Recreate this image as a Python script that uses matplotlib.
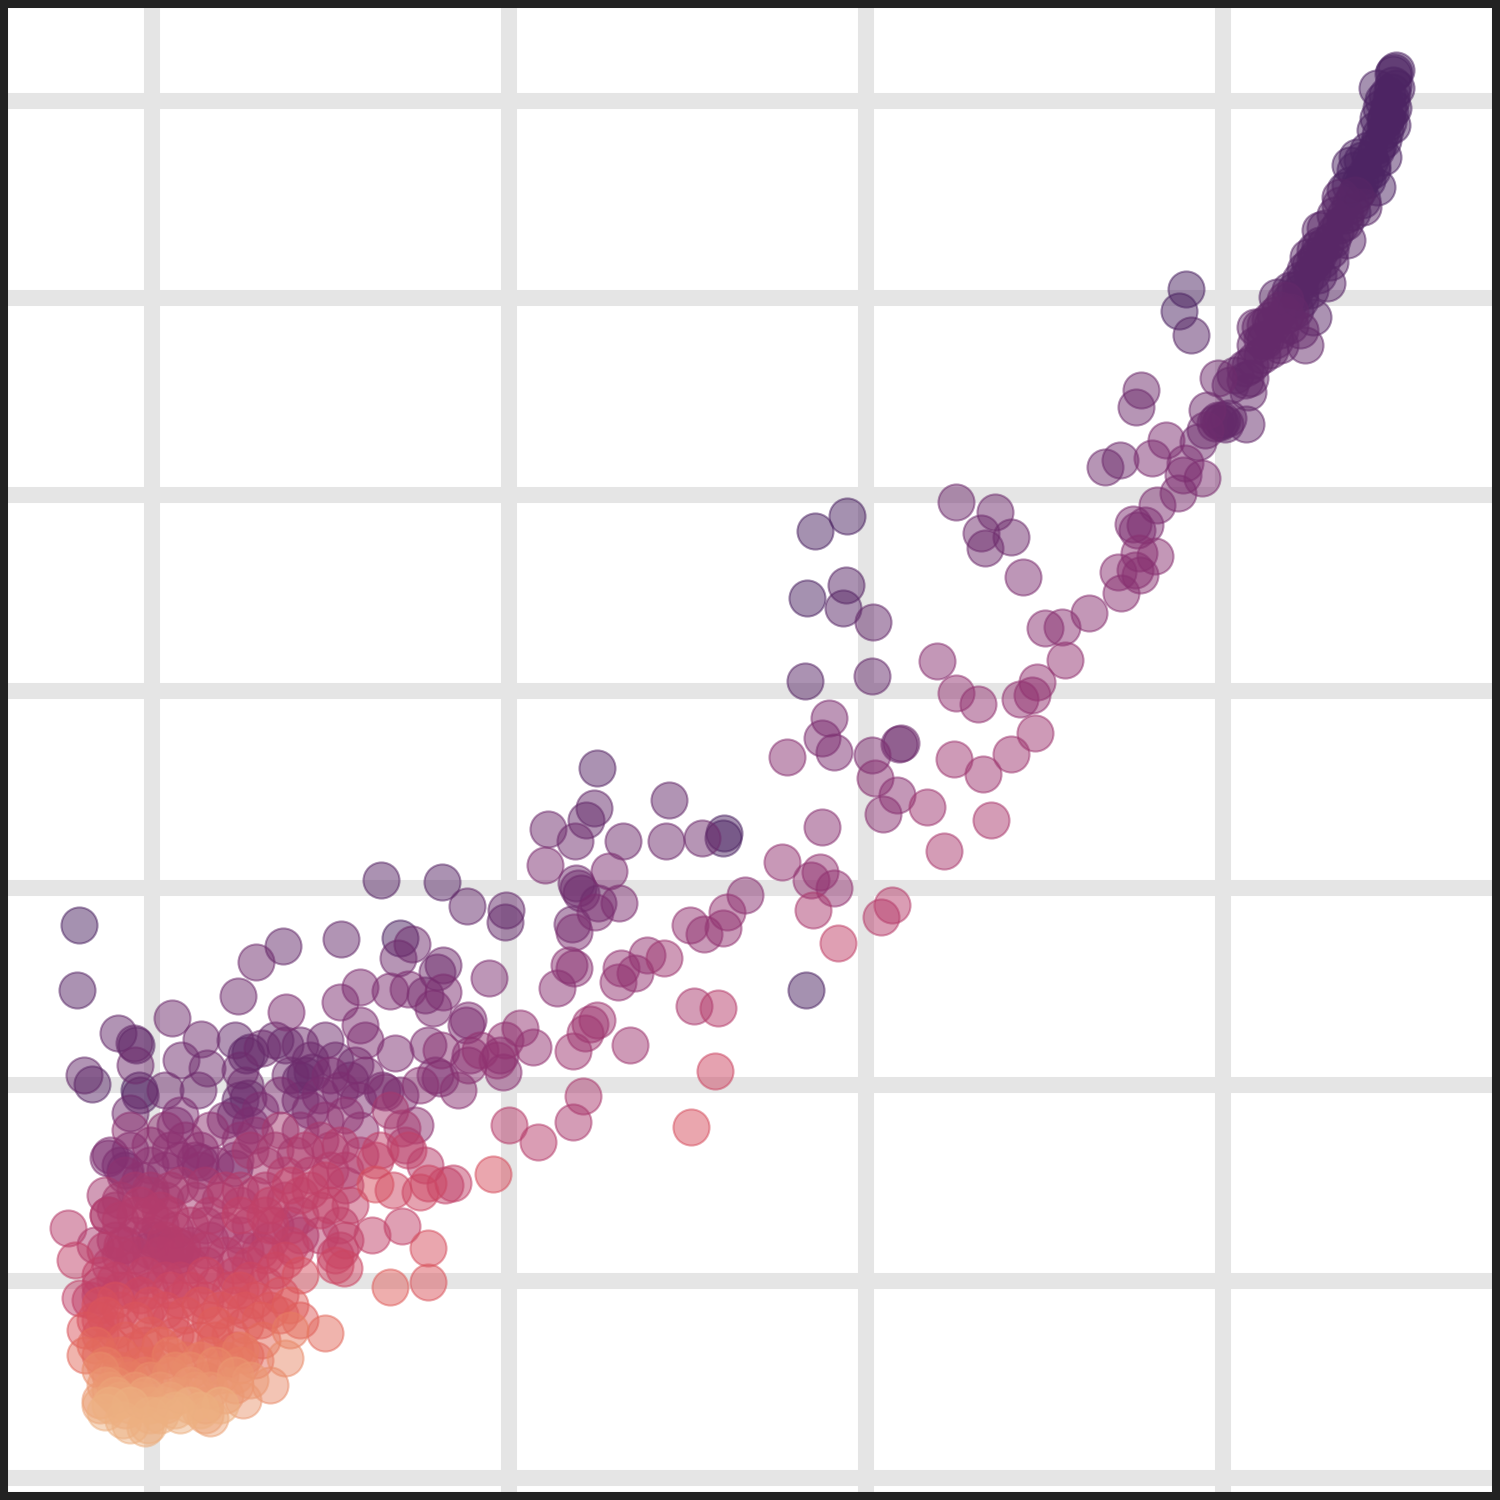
import matplotlib
matplotlib.use('Agg')
import matplotlib.pyplot as plt
import seaborn as sns

# grid positions
x_ticks = [152, 509, 866, 1223]
y_ticks = [101, 298, 495, 691, 888, 1085, 1281, 1478]

# points, one list per colour shade (0 = light orange, 1 = dark purple)
shades = [0.99, 0.94, 0.89, 0.85, 0.79, 0.74, 0.7, 0.65, 0.6, 0.55, 0.5, 0.45, 0.4, 0.37, 0.33, 0.28, 0.21, 0.15, 0.1, 0.05, 0.0,
          0.72, 0.62, 0.56, 0.5]

pts_100 = [(1396, 70), (1394, 72), (1393, 74), (1377, 88), (1393, 85), (1392, 92), (1391, 100), (1396, 88), (1393, 108),
           (1390, 112), (1388, 122), (1385, 130), (1380, 135), (1386, 118), (1383, 157), (1376, 150), (1370, 160),
           (1372, 170), (1365, 175), (1377, 187), (1360, 182), (1350, 165), (1357, 157), (1186, 289), (1179, 311),
           (79, 925), (806, 990), (847, 516), (815, 531), (807, 598), (724, 833), (723, 838), (400, 938), (139, 1090),
           (1388, 110), (1381, 108), (1385, 120), (1392, 125), (1375, 130), (1383, 140), (1378, 145), (1368, 150),
           (1372, 165), (1362, 160), (1367, 180), (1355, 170), (1358, 190), (1350, 185), (1345, 190), (1362, 200),
           (1352, 212), (1387, 95), (1383, 100), (1378, 118)]
pts_96 = [(1340, 197), (1355, 195), (1350, 205), (1345, 215), (1363, 207), (1340, 225), (1335, 232), (1347, 240),
          (1320, 230), (1325, 245), (1318, 255), (1308, 257), (1330, 262), (1312, 272), (1305, 280), (1327, 283),
          (1300, 292), (1290, 300), (1313, 317), (1277, 297), (1315, 260), (1330, 250), (77, 990), (843, 608),
          (1191, 335), (846, 585), (805, 681), (597, 768), (442, 882), (381, 880), (250, 1052), (246, 1055),
          (92, 1084), (140, 1095), (136, 1045), (1340, 205), (1345, 222), (1335, 215), (1332, 240), (1325, 228),
          (1320, 245), (1322, 260), (1315, 250), (1310, 265), (1318, 275), (1305, 270), (1300, 280), (1310, 290),
          (1295, 290), (1290, 290), (1300, 300), (1295, 310)]
pts_92 = [(1260, 327), (1272, 325), (1285, 315), (1300, 330), (1265, 340), (1275, 340), (1290, 325), (1280, 345),
          (1305, 345), (1250, 365), (1262, 355), (1245, 380), (1235, 375), (1248, 392), (1222, 420), (1220, 422),
          (1218, 420), (1225, 424), (1215, 423), (1228, 418), (1246, 424), (1255, 327), (872, 676), (873, 622),
          (594, 808), (586, 820), (669, 800), (467, 906), (506, 910), (505, 922), (341, 939), (283, 946), (118, 1033),
          (134, 1043), (84, 1075), (285, 1045), (235, 1040), (300, 1080), (312, 1072), (240, 1100), (235, 1115),
          (1285, 300), (1280, 310), (1275, 315), (1290, 312), (1270, 320), (1280, 330), (1265, 325), (1262, 340),
          (1255, 345), (1270, 350), (1255, 360), (1250, 378), (1245, 368), (1230, 385),
          (275, 1040), (305, 1075), (248, 1098), (234, 1168), (200, 1162)]
pts_86 = [(1218, 378), (1207, 410), (1205, 430), (1198, 442), (1141, 390), (1136, 407), (1105, 467), (1120, 460),
          (956, 502), (995, 512), (981, 533), (985, 548), (1011, 537), (901, 743), (899, 744), (548, 829), (575, 841),
          (623, 841), (666, 841), (702, 838), (576, 883), (578, 888), (581, 893), (598, 903), (572, 924), (412, 944),
          (398, 958), (256, 962), (238, 996), (443, 965), (425, 995), (437, 972), (172, 1018), (201, 1039),
          (135, 1065), (165, 1090), (130, 1113), (181, 1060), (207, 1068), (198, 1090), (262, 1048),
          (325, 1040), (350, 1080), (382, 1090), (300, 1100), (125, 1170), (300, 1045), (245, 1085),
          (240, 1070), (290, 1075), (310, 1060), (335, 1060), (355, 1065)]
pts_80 = [(1152, 458), (1166, 440), (1185, 463), (1183, 475), (1202, 478), (1178, 493), (1157, 505), (1137, 530),
          (1133, 524), (1145, 525), (1023, 577), (829, 718), (822, 738), (834, 752), (872, 755), (545, 865), (609, 871),
          (595, 912), (619, 903), (574, 932), (360, 987), (390, 991), (408, 989), (433, 1008), (443, 992), (489, 978),
          (340, 1002), (286, 1012), (468, 1020), (466, 1025), (365, 1040), (360, 1025), (395, 1053), (428, 1045),
          (320, 1095), (250, 1125), (180, 1115), (175, 1125), (108, 1158), (120, 1165), (440, 1078), (435, 1075),
          (385, 1092), (358, 1100), (330, 1075), (110, 1155), (130, 1150), (225, 1120), (260, 1110), (280, 1095),
          (310, 1110), (340, 1090), (365, 1075), (400, 1095)]
pts_75 = [(1139, 553), (1155, 556), (1118, 572), (1140, 575), (1135, 570), (1121, 593), (1089, 613), (1062, 627),
          (1045, 628), (937, 661), (787, 757), (875, 778), (897, 795), (883, 814), (822, 827), (745, 895), (569, 965),
          (574, 968), (557, 988), (470, 1055), (468, 1065), (441, 1050), (503, 1072), (500, 1055), (420, 1085),
          (458, 1090)]
pts_70 = [(1065, 660), (1037, 682), (1032, 695), (1020, 699), (956, 693), (978, 704), (727, 912), (690, 925),
          (704, 934), (723, 928), (782, 862), (820, 872), (811, 880), (834, 888), (647, 955), (621, 968), (635, 973),
          (618, 982), (520, 1028), (505, 1040), (533, 1047), (497, 1060), (480, 1050)]
pts_65 = [(1035, 733), (1011, 754), (983, 774), (954, 759), (927, 807), (664, 958), (597, 1020), (590, 1024),
          (585, 1033), (573, 1051), (630, 1045)]
pts_60 = [(991, 820), (944, 851), (694, 1006), (813, 910), (583, 1096), (573, 1122), (405, 1145), (360, 1155),
          (345, 1185), (300, 1215), (275, 1225), (240, 1235), (210, 1240), (165, 1245), (155, 1240), (150, 1250),
          (175, 1250), (125, 1245), (95, 1245), (115, 1240), (135, 1235), (150, 1235), (160, 1225), (175, 1230),
          (190, 1245), (205, 1225), (225, 1230), (250, 1225), (270, 1240), (300, 1235)]
pts_55 = [(892, 905), (881, 917), (718, 1008), (538, 1142), (509, 1125), (425, 1165), (340, 1225), (320, 1235),
          (290, 1225), (260, 1250), (235, 1265), (205, 1265), (180, 1255), (160, 1255), (130, 1270), (110, 1265),
          (68, 1228), (100, 1285), (105, 1250), (120, 1255), (135, 1255), (150, 1265), (165, 1240), (170, 1265),
          (190, 1265), (205, 1250), (225, 1255), (245, 1250)]
pts_50 = [(838, 943), (453, 1183), (445, 1185), (402, 1226), (372, 1235), (345, 1240), (335, 1255), (290, 1245),
          (265, 1255), (235, 1275), (215, 1285), (180, 1280), (145, 1275), (120, 1290), (100, 1295), (75, 1260),
          (80, 1298), (90, 1300), (100, 1275), (115, 1280), (130, 1290), (150, 1290), (165, 1280), (250, 1265)]
pts_45 = [(715, 1071), (428, 1183), (420, 1192), (393, 1190), (344, 1268), (335, 1265), (265, 1285), (250, 1280),
          (205, 1300), (170, 1290), (140, 1295), (120, 1310), (100, 1320), (180, 1300), (190, 1290), (205, 1275),
          (230, 1290), (275, 1270), (285, 1260)]
pts_40 = [(691, 1127), (493, 1174), (428, 1248), (375, 1184), (300, 1275), (280, 1295), (235, 1305), (145, 1315),
          (115, 1330), (170, 1320), (210, 1320), (95, 1320), (100, 1335), (100, 1305), (115, 1300), (150, 1305),
          (165, 1310), (240, 1290), (255, 1300)]
pts_35 = [(428, 1282), (280, 1315), (245, 1325), (200, 1340), (145, 1345), (110, 1345), (85, 1330), (175, 1335),
          (135, 1320), (185, 1315), (200, 1305), (220, 1310), (270, 1310), (105, 1315), (245, 1310)]
pts_30 = [(390, 1287), (300, 1320), (290, 1305), (260, 1320), (235, 1350), (215, 1340), (135, 1350), (165, 1360),
          (125, 1340), (150, 1335), (185, 1345), (215, 1325), (230, 1335)]
pts_25 = [(325, 1333), (262, 1340), (245, 1355), (205, 1380), (100, 1355), (85, 1355), (150, 1365), (120, 1370),
          (95, 1345), (120, 1355), (140, 1365), (160, 1345), (185, 1360), (210, 1355), (225, 1360), (255, 1360)]
pts_20 = [(290, 1330), (240, 1365), (200, 1360), (170, 1355), (110, 1375), (130, 1380), (220, 1375), (105, 1365),
          (125, 1375), (145, 1375), (240, 1350)]
pts_15 = [(285, 1358), (270, 1385), (150, 1380), (175, 1370), (100, 1370), (115, 1385), (170, 1375), (190, 1370),
          (215, 1365), (235, 1385)]
pts_10 = [(243, 1400), (250, 1380), (190, 1385), (160, 1390), (140, 1400), (110, 1390), (100, 1400), (205, 1405),
          (105, 1385), (135, 1390), (180, 1395), (195, 1390), (210, 1390), (225, 1395), (235, 1375)]
pts_05 = [(205, 1415), (210, 1418), (170, 1400), (145, 1395), (125, 1410), (100, 1405), (115, 1395), (120, 1400),
          (150, 1405), (165, 1405)]
pts_00 = [(145, 1428), (148, 1425), (123, 1420), (105, 1412), (150, 1415), (175, 1410), (190, 1405), (130, 1405),
          (110, 1405), (130, 1425), (160, 1415), (180, 1415), (200, 1410), (220, 1405)]

# lower left cluster, redder than the arc points at the same height
cluster_a = [(415, 1125), (345, 1115), (325, 1120), (300, 1130), (240, 1140), (255, 1135), (235, 1160), (200, 1170),
             (195, 1160), (170, 1150), (150, 1145), (140, 1180), (125, 1175), (150, 1165), (165, 1170), (180, 1160),
             (200, 1150), (215, 1165), (130, 1130), (165, 1130), (185, 1140), (210, 1130), (360, 1130)]
cluster_b = [(275, 1150), (295, 1155), (250, 1150), (265, 1165), (280, 1130), (390, 1110), (402, 1128), (320, 1140),
             (330, 1150), (170, 1190), (150, 1195), (135, 1190), (120, 1200), (108, 1215), (115, 1210), (105, 1195),
             (150, 1190), (165, 1200), (180, 1185), (195, 1200), (205, 1185), (220, 1200)]
cluster_c = [(285, 1175), (265, 1190), (240, 1190), (305, 1150), (310, 1175), (340, 1145), (330, 1170), (225, 1190),
             (255, 1195), (285, 1200), (345, 1170), (190, 1225), (175, 1245), (160, 1210), (150, 1215), (140, 1205),
             (170, 1215), (182, 1248), (122, 1245), (108, 1215), (120, 1220), (135, 1215), (210, 1215), (240, 1205)]
cluster_d = [(380, 1150), (408, 1150), (375, 1160), (350, 1205), (320, 1210), (300, 1195), (290, 1185), (265, 1215),
             (240, 1215), (270, 1205), (310, 1190), (325, 1180), (330, 1205), (295, 1250), (270, 1225), (340, 1250)]

all_pts = [pts_100, pts_96, pts_92, pts_86, pts_80, pts_75, pts_70, pts_65, pts_60, pts_55, pts_50, pts_45, pts_40,
           pts_35, pts_30, pts_25, pts_20, pts_15, pts_10, pts_05, pts_00, cluster_a, cluster_b, cluster_c, cluster_d]

# cluster lists go in with the light end of the dark bands
order = [0, 1, 2, 3, 4, 5, 21, 6, 7, 22, 8, 23, 9, 24, 10, 11, 12, 13, 14, 15, 16, 17, 18, 19, 20]

fig = plt.figure(figsize=(10, 10), dpi=150)
ax = fig.add_axes([0, 0, 1, 1])
ax.set_xlim(0, 1500)
ax.set_ylim(1500, 0)

ax.set_axisbelow(True)
ax.set_xticks(x_ticks)
ax.set_yticks(y_ticks)
ax.tick_params(length=0, labelbottom=False, labelleft=False)
ax.grid(True, color='#e5e5e5', linewidth=7.7)

for s in ax.spines.values():
    s.set_color('#222222')
    s.set_linewidth(7.7)

cmap = sns.color_palette('flare', as_cmap=True)

# darkest first, the light points sit on top
for i in order:
    xs = [p[0] for p in all_pts[i]]
    ys = [p[1] for p in all_pts[i]]
    ax.scatter(xs, ys, s=300, color=cmap(shades[i]), alpha=0.5, linewidths=1.0, edgecolors=cmap(shades[i]), zorder=3)

fig.savefig('out.png', dpi=150)
